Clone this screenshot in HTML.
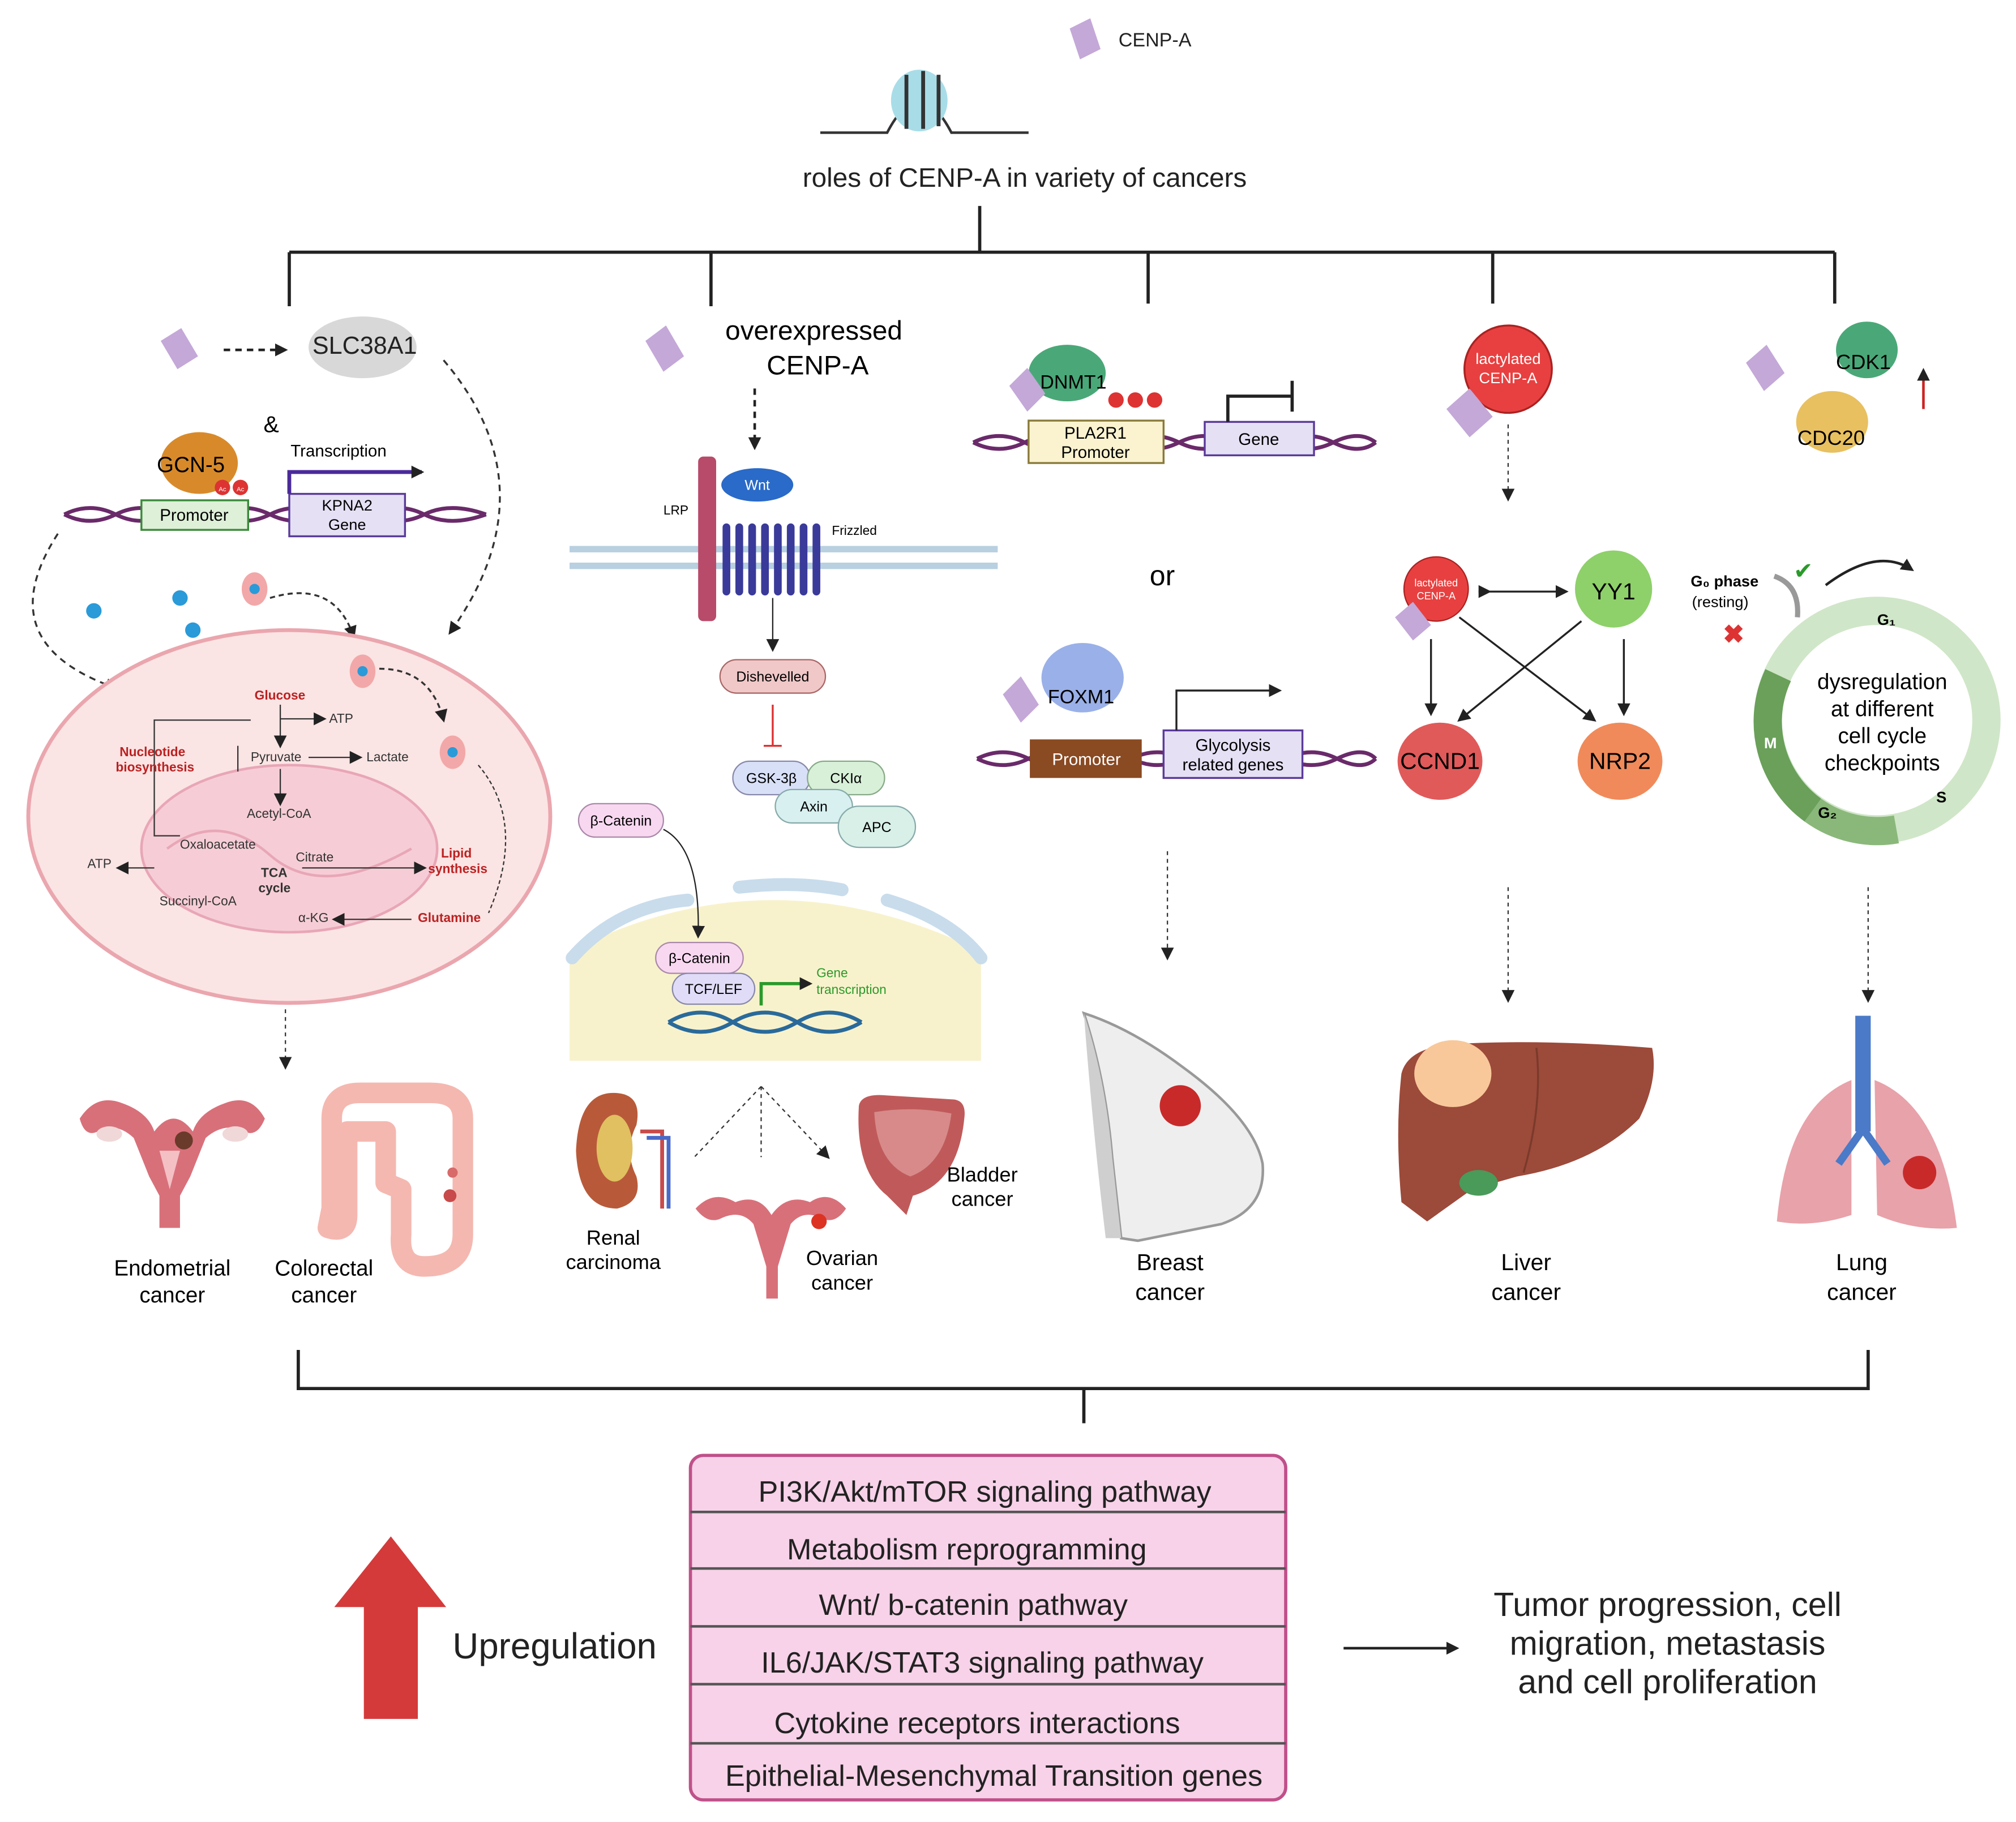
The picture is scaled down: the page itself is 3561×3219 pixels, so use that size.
<!DOCTYPE html>
<html><head><meta charset="utf-8"><style>html,body{margin:0;padding:0;background:#fff}svg{display:block}text{font-family:"Liberation Sans",sans-serif}</style></head><body>
<svg width="3561" height="3219" viewBox="0 0 1568 1417" xmlns="http://www.w3.org/2000/svg">
<defs>
<marker id="ah" markerUnits="userSpaceOnUse" markerWidth="10" markerHeight="10" refX="8" refY="5" orient="auto"><path d="M0,0L10,5L0,10z" fill="#222"/></marker>
</defs>
<rect width="1568" height="1417" fill="#fff"/>
<!-- legend -->
<path d="M832,22l16,-8l8,24l-16,8z" fill="#c4a8d8"/>
<text x="870" y="36" font-size="15" fill="#222">CENP-A</text>
<!-- nucleosome -->
<path d="M638,103H690Q715,55 740,103H800" fill="none" stroke="#333" stroke-width="2"/>
<ellipse cx="715" cy="78" rx="22" ry="24" fill="#a8dde8"/>
<path d="M705,58v42M718,55v45M730,58v40" stroke="#333" stroke-width="3"/>
<text x="797" y="145" font-size="21" text-anchor="middle" fill="#222">roles of CENP-A in variety of cancers</text>
<!-- tree -->
<g stroke="#222" stroke-width="2.5" fill="none">
<path d="M762,160V196M225,196H1427M225,196V238M553,196V238M893,196V236M1161,196V236M1427,196V236"/>
<path d="M232,1050V1080H1453V1050M843,1080V1107"/>
</g>
<!-- panel 1 -->
<path d="M125,265l16,-10l13,22l-16,10z" fill="#c4a8d8"/>
<path d="M174,272H222" stroke="#222" stroke-width="2" stroke-dasharray="5,4" marker-end="url(#ah)"/>
<ellipse cx="282" cy="270" rx="42" ry="24" fill="#d8d8d8"/>
<text x="243" y="275" font-size="19" fill="#222">SLC38A1</text>
<text x="205" y="336" font-size="18">&amp;</text>
<ellipse cx="155" cy="360" rx="30" ry="24" fill="#d88a2a"/>
<text x="122" y="367" font-size="17">GCN-5</text>
<circle cx="173" cy="379" r="6" fill="#d33"/><circle cx="187" cy="379" r="6" fill="#d33"/>
<text x="173" y="382" font-size="5" fill="#fff" text-anchor="middle">Ac</text><text x="187" y="382" font-size="5" fill="#fff" text-anchor="middle">Ac</text>
<path d="M50,400Q70,390 90,400T130,400T170,400T210,400T250,400T290,400T330,400T378,400" fill="none" stroke="#6a2a6a" stroke-width="3"/>
<path d="M50,400Q70,410 90,400T130,400T170,400T210,400T250,400T290,400T330,400T378,400" fill="none" stroke="#6a2a6a" stroke-width="3"/>
<rect x="110" y="389" width="83" height="23" fill="#dff0d8" stroke="#3a8a3a" stroke-width="1.5"/>
<text x="151" y="405" font-size="13" text-anchor="middle">Promoter</text>
<rect x="225" y="384" width="90" height="33" fill="#e6e0f5" stroke="#5a3a9a" stroke-width="1.5"/>
<text x="270" y="397" font-size="12" text-anchor="middle">KPNA2</text><text x="270" y="412" font-size="12" text-anchor="middle">Gene</text>
<text x="226" y="355" font-size="13">Transcription</text>
<path d="M225,384V367H328" fill="none" stroke="#4a2a9a" stroke-width="3" marker-end="url(#ah)"/>
<path d="M345,280Q430,380 350,492" fill="none" stroke="#333" stroke-width="1.5" stroke-dasharray="5,4" marker-end="url(#ah)"/>
<path d="M45,415Q-10,500 90,535" fill="none" stroke="#333" stroke-width="1.5" stroke-dasharray="5,4" marker-end="url(#ah)"/>
<circle cx="73" cy="475" r="6" fill="#2a9ad8"/><circle cx="140" cy="465" r="6" fill="#2a9ad8"/><circle cx="150" cy="490" r="6" fill="#2a9ad8"/><circle cx="100" cy="532" r="6" fill="#2a9ad8"/>
<ellipse cx="198" cy="458" rx="10" ry="13" fill="#f2a8a8"/><circle cx="198" cy="458" r="4" fill="#2a9ad8"/>
<path d="M210,465Q260,450 275,495" fill="none" stroke="#333" stroke-width="1.5" stroke-dasharray="4,3" marker-end="url(#ah)"/>
<ellipse cx="225" cy="635" rx="203" ry="145" fill="#fbe4e4" stroke="#eaa6ae" stroke-width="3"/>
<ellipse cx="225" cy="660" rx="115" ry="65" fill="#f6cdd6" stroke="#e8a6b6" stroke-width="2"/>
<path d="M130,660Q170,630 210,665T320,660" fill="none" stroke="#e8a6b6" stroke-width="2"/>
<ellipse cx="282" cy="522" rx="10" ry="13" fill="#f2a8a8"/><circle cx="282" cy="522" r="4" fill="#2a9ad8"/>
<ellipse cx="352" cy="585" rx="10" ry="13" fill="#f2a8a8"/><circle cx="352" cy="585" r="4" fill="#2a9ad8"/>
<path d="M295,520Q335,520 345,560" fill="none" stroke="#333" stroke-width="1.5" stroke-dasharray="4,3" marker-end="url(#ah)"/>
<path d="M372,595Q410,640 380,710" fill="none" stroke="#333" stroke-width="1" stroke-dasharray="3,2"/>
<g stroke="#333" stroke-width="1" fill="none">
<path d="M218,548V580" marker-end="url(#ah)"/><path d="M218,559H252" marker-end="url(#ah)"/>
<path d="M240,589H280" marker-end="url(#ah)"/><path d="M218,598V625" marker-end="url(#ah)"/>
<path d="M195,560H120V650H140"/><path d="M185,600V580"/>
<path d="M235,675H330" marker-end="url(#ah)"/><path d="M120,675H92" marker-end="url(#ah)"/>
<path d="M320,715H260" marker-end="url(#ah)"/>
</g>
<g font-size="10" fill="#333">
<text x="198" y="544" fill="#b22" font-weight="bold">Glucose</text>
<text x="256" y="562">ATP</text>
<text x="93" y="588" fill="#b22" font-weight="bold">Nucleotide</text><text x="90" y="600" fill="#b22" font-weight="bold">biosynthesis</text>
<text x="195" y="592">Pyruvate</text><text x="285" y="592">Lactate</text>
<text x="192" y="636">Acetyl-CoA</text>
<text x="140" y="660">Oxaloacetate</text><text x="230" y="670">Citrate</text>
<text x="68" y="675">ATP</text>
<text x="203" y="682" font-weight="bold">TCA</text><text x="201" y="694" font-weight="bold">cycle</text>
<text x="343" y="667" fill="#b22" font-weight="bold">Lipid</text><text x="333" y="679" fill="#b22" font-weight="bold">synthesis</text>
<text x="124" y="704">Succinyl-CoA</text><text x="232" y="717">α-KG</text>
<text x="325" y="717" fill="#b22" font-weight="bold">Glutamine</text>
</g>
<path d="M222,785V830" stroke="#333" stroke-dasharray="3,3" marker-end="url(#ah)"/>
<!-- organs panel 1: uterus -->
<g fill="#d8707a">
<path d="M62,870Q75,850 95,858Q115,865 120,880Q135,860 150,880Q155,865 175,858Q195,850 206,870Q200,885 190,880Q175,872 160,885L148,915L140,930V955H124V930L116,915L104,885Q90,872 76,880Q66,885 62,870z"/>
</g>
<ellipse cx="85" cy="882" rx="10" ry="6" fill="#f0d8d8"/><ellipse cx="183" cy="882" rx="10" ry="6" fill="#f0d8d8"/>
<path d="M124,895L132,925L140,895z" fill="#f4c0c4"/><circle cx="143" cy="887" r="7" fill="#6a3a2a"/>
<!-- colon -->
<path d="M258,940V870Q258,850 280,850H335Q360,850 360,870V960Q360,985 330,985Q310,985 312,960V925L300,920V880H270V945Q270,960 255,955z" fill="none" stroke="#f4b8b0" stroke-width="16" stroke-linejoin="round"/>
<circle cx="350" cy="930" r="5" fill="#c84a4a"/><circle cx="352" cy="912" r="4" fill="#d86a6a"/>
<text x="134" y="992" font-size="17" text-anchor="middle">Endometrial</text><text x="134" y="1013" font-size="17" text-anchor="middle">cancer</text>
<text x="252" y="992" font-size="17" text-anchor="middle">Colorectal</text><text x="252" y="1013" font-size="17" text-anchor="middle">cancer</text>
<!-- panel 2 -->
<path d="M502,265l16,-12l14,24l-16,12z" fill="#c4a8d8"/>
<text x="633" y="264" font-size="21" text-anchor="middle">overexpressed</text>
<text x="636" y="291" font-size="21" text-anchor="middle">CENP-A</text>
<path d="M587,302V348" stroke="#222" stroke-width="2" stroke-dasharray="5,4" marker-end="url(#ah)"/>
<path d="M443,427H776M443,440H776" stroke="#b8d0e0" stroke-width="5"/>
<rect x="543" y="355" width="14" height="128" rx="4" fill="#b84a6a"/>
<text x="516" y="400" font-size="10">LRP</text><text x="647" y="416" font-size="10">Frizzled</text>
<ellipse cx="589" cy="377" rx="28" ry="13" fill="#2a6ac8"/><text x="589" y="381" font-size="11" fill="#fff" text-anchor="middle">Wnt</text>
<path d="M565,410v50M575,410v50M585,410v50M595,410v50M605,410v50M615,410v50M625,410v50M635,410v50" stroke="#3a3a9a" stroke-width="6" stroke-linecap="round"/>
<path d="M601,465V505" stroke="#222" marker-end="url(#ah)"/>
<rect x="560" y="513" width="82" height="26" rx="13" fill="#f0c8c8" stroke="#a66"/><text x="601" y="530" font-size="11" text-anchor="middle">Dishevelled</text>
<path d="M601,548V580M594,580H608" stroke="#d33" stroke-width="1.5"/>
<rect x="570" y="592" width="60" height="26" rx="13" fill="#d8e0f8" stroke="#88a"/><text x="600" y="609" font-size="11" text-anchor="middle">GSK-3β</text>
<rect x="628" y="592" width="60" height="26" rx="13" fill="#d8f0d8" stroke="#8a8"/><text x="658" y="609" font-size="11" text-anchor="middle">CKIα</text>
<rect x="603" y="614" width="60" height="26" rx="13" fill="#d8f0f0" stroke="#8aa"/><text x="633" y="631" font-size="11" text-anchor="middle">Axin</text>
<rect x="652" y="627" width="60" height="32" rx="16" fill="#d8f0e8" stroke="#8aa"/><text x="682" y="647" font-size="11" text-anchor="middle">APC</text>
<rect x="450" y="625" width="66" height="26" rx="13" fill="#f8d8f0" stroke="#a8a"/><text x="483" y="642" font-size="11" text-anchor="middle">β-Catenin</text>
<path d="M443,740Q600,660 763,740V825H443z" fill="#f8f2cc"/>
<path d="M445,745Q480,705 535,700M575,690Q620,685 655,692M690,700Q740,715 763,745" fill="none" stroke="#c8dcec" stroke-width="10" stroke-linecap="round"/>
<path d="M516,645Q545,660 543,728" fill="none" stroke="#222" marker-end="url(#ah)"/>
<rect x="510" y="733" width="68" height="24" rx="12" fill="#f8d8f0" stroke="#a8a"/><text x="544" y="749" font-size="11" text-anchor="middle">β-Catenin</text>
<rect x="523" y="757" width="64" height="24" rx="12" fill="#e0dcf8" stroke="#88a"/><text x="555" y="773" font-size="11" text-anchor="middle">TCF/LEF</text>
<path d="M520,795Q545,780 570,795T620,795T670,795M520,795Q545,810 570,795T620,795T670,795" fill="none" stroke="#2a6a9a" stroke-width="3"/>
<path d="M592,782V765H630" fill="none" stroke="#2a9a2a" stroke-width="2.5" marker-end="url(#ah)"/>
<text x="635" y="760" font-size="10" fill="#2a9a2a">Gene</text><text x="635" y="773" font-size="10" fill="#2a9a2a">transcription</text>
<path d="M592,845L540,900M592,845V900M592,845L644,900" stroke="#333" stroke-dasharray="3,3" marker-end="url(#ah)"/>
<path d="M477,850Q450,850 448,895Q450,940 480,940Q500,935 495,915Q485,895 495,875Q500,850 477,850z" fill="#b85a3a"/>
<ellipse cx="478" cy="893" rx="14" ry="26" fill="#e0c060"/>
<path d="M498,880H515V940" fill="none" stroke="#c84a4a" stroke-width="3"/><path d="M503,885H520V940" fill="none" stroke="#4a6ac8" stroke-width="3"/>
<path d="M541,940Q555,925 572,935Q590,928 600,945Q612,928 630,935Q645,925 658,940Q650,952 640,948Q625,940 615,952L605,985V1010H596V985L586,952Q576,940 560,948Q550,952 541,940z" fill="#d8707a"/>
<circle cx="637" cy="950" r="6" fill="#d32"/>
<path d="M668,860Q670,850 690,852L740,855Q752,855 750,870Q745,920 710,930L705,945L690,930Q665,910 668,860z" fill="#c05a5a"/>
<path d="M680,865Q710,860 740,866Q735,905 708,915Q682,905 680,865z" fill="#d88a8a"/>
<text x="477" y="968" font-size="16" text-anchor="middle">Renal</text><text x="477" y="987" font-size="16" text-anchor="middle">carcinoma</text>
<text x="655" y="984" font-size="16" text-anchor="middle">Ovarian</text><text x="655" y="1003" font-size="16" text-anchor="middle">cancer</text>
<text x="764" y="919" font-size="16" text-anchor="middle">Bladder</text><text x="764" y="938" font-size="16" text-anchor="middle">cancer</text>
<!-- panel 3 -->
<ellipse cx="830" cy="290" rx="30" ry="22" fill="#4aa878"/>
<path d="M785,300l14,-14l14,20l-14,14z" fill="#c4a8d8"/>
<text x="809" y="302" font-size="15">DNMT1</text>
<circle cx="868" cy="311" r="6" fill="#d33"/><circle cx="883" cy="311" r="6" fill="#d33"/><circle cx="898" cy="311" r="6" fill="#d33"/>
<path d="M757,344Q777,334 797,344T837,344T877,344T917,344T957,344T997,344T1037,344T1070,344M757,344Q777,354 797,344T837,344T877,344T917,344T957,344T997,344T1037,344T1070,344" fill="none" stroke="#6a2a6a" stroke-width="3"/>
<rect x="800" y="327" width="105" height="33" fill="#fbf3d0" stroke="#8a7a3a" stroke-width="1.5"/>
<text x="852" y="341" font-size="13" text-anchor="middle">PLA2R1</text><text x="852" y="356" font-size="13" text-anchor="middle">Promoter</text>
<rect x="937" y="328" width="85" height="26" fill="#e6e0f5" stroke="#5a3a9a" stroke-width="1.5"/>
<text x="979" y="346" font-size="13" text-anchor="middle">Gene</text>
<path d="M955,328V308H1005M1005,296V320" fill="none" stroke="#222" stroke-width="2.5"/>
<text x="904" y="455" font-size="22" text-anchor="middle">or</text>
<ellipse cx="842" cy="527" rx="32" ry="27" fill="#9ab0e8"/>
<path d="M780,540l14,-14l14,22l-14,14z" fill="#c4a8d8"/>
<text x="815" y="547" font-size="15">FOXM1</text>
<path d="M760,590Q780,580 800,590T840,590T880,590T920,590T960,590T1000,590T1040,590T1070,590M760,590Q780,600 800,590T840,590T880,590T920,590T960,590T1000,590T1040,590T1070,590" fill="none" stroke="#6a2a6a" stroke-width="3"/>
<rect x="801" y="575" width="87" height="30" fill="#8a4a22"/><text x="845" y="595" font-size="13" fill="#fff" text-anchor="middle">Promoter</text>
<rect x="905" y="568" width="108" height="37" fill="#e6e0f5" stroke="#5a3a9a" stroke-width="1.5"/>
<text x="959" y="584" font-size="13" text-anchor="middle">Glycolysis</text><text x="959" y="599" font-size="13" text-anchor="middle">related genes</text>
<path d="M915,568V537H995" fill="none" stroke="#222" stroke-width="1.5" marker-end="url(#ah)"/>
<path d="M908,662V745" stroke="#333" stroke-dasharray="3,3" marker-end="url(#ah)"/>
<path d="M843,788Q880,800 920,830Q975,870 982,905Q985,940 950,952L885,965L872,963L865,900Q860,840 843,788z" fill="#eeeeee" stroke="#999" stroke-width="2"/>
<path d="M843,788Q860,840 865,900L872,963H860Q850,880 843,788z" fill="#cfcfcf"/>
<circle cx="918" cy="860" r="16" fill="#c82a2a"/>
<text x="910" y="988" font-size="18" text-anchor="middle">Breast</text><text x="910" y="1011" font-size="18" text-anchor="middle">cancer</text>
<!-- panel 4 -->
<circle cx="1173" cy="287" r="34" fill="#e84040" stroke="#a22" stroke-width="1.5"/>
<text x="1173" y="283" font-size="12" fill="#fff" text-anchor="middle">lactylated</text><text x="1173" y="298" font-size="12" fill="#fff" text-anchor="middle">CENP-A</text>
<path d="M1125,318l18,-16l18,22l-18,16z" fill="#c4a8d8"/>
<path d="M1173,330V388" stroke="#333" stroke-dasharray="3,3" marker-end="url(#ah)"/>
<circle cx="1117" cy="458" r="25" fill="#e84040" stroke="#a22"/>
<text x="1117" y="456" font-size="8" fill="#fff" text-anchor="middle">lactylated</text><text x="1117" y="466" font-size="8" fill="#fff" text-anchor="middle">CENP-A</text>
<path d="M1085,480l14,-12l14,18l-14,12z" fill="#c4a8d8"/>
<ellipse cx="1255" cy="458" rx="30" ry="30" fill="#8ed06a"/><text x="1255" y="466" font-size="18" text-anchor="middle">YY1</text>
<path d="M1150,460H1218" stroke="#222" stroke-width="1.5" marker-end="url(#ah)"/>
<path d="M1160,460L1150,455V465z" fill="#222"/>
<ellipse cx="1120" cy="592" rx="33" ry="30" fill="#e05a5a"/><text x="1120" y="598" font-size="18" text-anchor="middle">CCND1</text>
<ellipse cx="1260" cy="592" rx="33" ry="30" fill="#f08a5a"/><text x="1260" y="598" font-size="18" text-anchor="middle">NRP2</text>
<g stroke="#222" stroke-width="1.5"><path d="M1113,497V555" marker-end="url(#ah)"/><path d="M1263,497V555" marker-end="url(#ah)"/><path d="M1135,480L1240,560" marker-end="url(#ah)"/><path d="M1230,483L1135,560" marker-end="url(#ah)"/></g>
<path d="M1173,690V778" stroke="#333" stroke-dasharray="3,3" marker-end="url(#ah)"/>
<path d="M1090,835Q1095,815 1130,812Q1200,808 1285,815Q1290,840 1275,870Q1240,905 1180,915L1145,925L1110,950L1090,935Q1085,880 1090,835z" fill="#9c4a3a"/>
<path d="M1195,815Q1200,860 1185,912" fill="none" stroke="#7a3a2a" stroke-width="1.5"/>
<ellipse cx="1150" cy="920" rx="15" ry="10" fill="#4a9a5a"/>
<ellipse cx="1130" cy="835" rx="30" ry="26" fill="#f8c89a"/>
<text x="1187" y="988" font-size="18" text-anchor="middle">Liver</text><text x="1187" y="1011" font-size="18" text-anchor="middle">cancer</text>
<!-- panel 5 -->
<path d="M1358,282l16,-14l14,22l-16,14z" fill="#c4a8d8"/>
<ellipse cx="1452" cy="272" rx="24" ry="22" fill="#4aa878"/><text x="1428" y="287" font-size="16">CDK1</text>
<ellipse cx="1425" cy="328" rx="28" ry="24" fill="#e8c060"/><text x="1398" y="346" font-size="16">CDC20</text>
<path d="M1496,318V288" stroke="#c22" stroke-width="2" marker-end="url(#ah)"/>
<circle cx="1460" cy="560" r="85" fill="none" stroke="#d0e6c8" stroke-width="22"/>
<path d="M1383,525A85,85 0 0 0 1410,630" fill="none" stroke="#6aa05a" stroke-width="22"/>
<path d="M1410,630A85,85 0 0 0 1475,645" fill="none" stroke="#8ab87a" stroke-width="22"/>
<text x="1464" y="536" font-size="17" text-anchor="middle">dysregulation</text>
<text x="1464" y="557" font-size="17" text-anchor="middle">at different</text>
<text x="1464" y="578" font-size="17" text-anchor="middle">cell cycle</text>
<text x="1464" y="599" font-size="17" text-anchor="middle">checkpoints</text>
<text x="1460" y="486" font-size="12" font-weight="bold">G₁</text><text x="1372" y="582" font-size="12" font-weight="bold" fill="#fff">M</text>
<text x="1414" y="636" font-size="12" font-weight="bold">G₂</text><text x="1506" y="624" font-size="12" font-weight="bold">S</text>
<text x="1315" y="456" font-size="12" font-weight="bold">G₀ phase</text><text x="1316" y="472" font-size="12">(resting)</text>
<text x="1340" y="500" font-size="20" fill="#d33" font-weight="bold">✖</text>
<path d="M1380,448Q1400,455 1398,480" fill="none" stroke="#999" stroke-width="4"/>
<text x="1395" y="450" font-size="18" fill="#2a9a2a">✔</text>
<path d="M1420,455Q1460,425 1487,443" fill="none" stroke="#222" stroke-width="2" marker-end="url(#ah)"/>
<path d="M1453,690V778" stroke="#333" stroke-dasharray="3,3" marker-end="url(#ah)"/>
<path d="M1440,840Q1390,860 1382,950Q1410,955 1440,945z" fill="#e8a2aa"/>
<path d="M1458,840Q1510,860 1522,955Q1490,958 1460,945z" fill="#e8a2aa"/>
<rect x="1443" y="790" width="12" height="90" fill="#4a7ac8"/>
<path d="M1449,878L1430,905M1449,878L1468,905" stroke="#4a7ac8" stroke-width="6"/>
<circle cx="1493" cy="912" r="13" fill="#c82a2a"/>
<text x="1448" y="988" font-size="18" text-anchor="middle">Lung</text><text x="1448" y="1011" font-size="18" text-anchor="middle">cancer</text>
<!-- bottom -->
<path d="M283,1337H325V1250H347L304,1195L260,1250H283z" fill="#d43a3a"/>
<text x="352" y="1290" font-size="28" fill="#222">Upregulation</text>
<rect x="537" y="1132" width="463" height="268" rx="10" fill="#f7d2e8" stroke="#c0508a" stroke-width="2.5"/>
<g stroke="#555" stroke-width="2"><path d="M537,1176H1000M537,1220H1000M537,1265H1000M537,1310H1000M537,1356H1000"/></g>
<g font-size="23" text-anchor="middle" fill="#222">
<text x="766" y="1168">PI3K/Akt/mTOR signaling pathway</text>
<text x="752" y="1213">Metabolism reprogramming</text>
<text x="757" y="1256">Wnt/ b-catenin pathway</text>
<text x="764" y="1301">IL6/JAK/STAT3 signaling pathway</text>
<text x="760" y="1348">Cytokine receptors interactions</text>
<text x="773" y="1389">Epithelial-Mesenchymal Transition genes</text>
</g>
<path d="M1045,1282H1133" stroke="#222" stroke-width="2" marker-end="url(#ah)"/>
<g font-size="26" text-anchor="middle" fill="#222">
<text x="1297" y="1257">Tumor progression, cell</text>
<text x="1297" y="1287">migration, metastasis</text>
<text x="1297" y="1317">and cell proliferation</text>
</g>
</svg>
</body></html>
